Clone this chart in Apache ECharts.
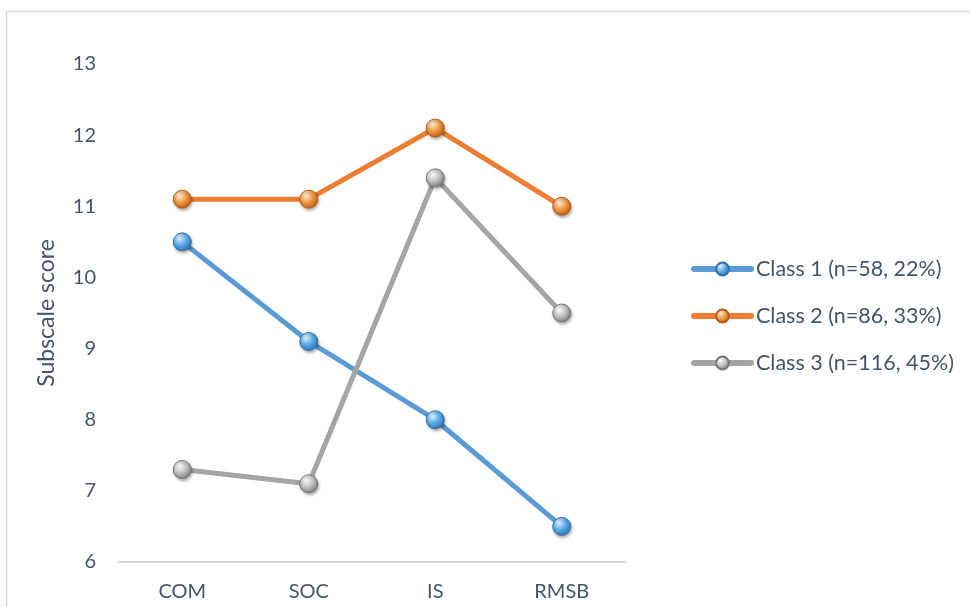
<!DOCTYPE html>
<html>
<head>
<meta charset="utf-8">
<script src="https://cdn.jsdelivr.net/npm/echarts@6/dist/echarts.min.js"></script>
<style>
  html, body { margin: 0; padding: 0; background: #fff; }
  #main { width: 970px; height: 607px; }
</style>
</head>
<body>
<div id="main"></div>
<script>
var categories = ['COM', 'SOC', 'IS', 'RMSB'];
var class1 = [10.5, 9.1, 8.0, 6.5];
var class2 = [11.1, 11.1, 12.1, 11.0];
var class3 = [7.3, 7.1, 11.4, 9.5];
var seriesNames = ['Class 1 (n=58, 22%)', 'Class 2 (n=86, 33%)', 'Class 3 (n=116, 45%)'];

var textColor = '#44546a';

function ball(light, mid, dark) {
    return new echarts.graphic.RadialGradient(0.35, 0.3, 0.75, [
        {offset: 0, color: light},
        {offset: 0.5, color: mid},
        {offset: 1, color: dark}
    ]);
}

function makeSeries(name, data, lineColor, light, mid, dark) {
    return {
        name: name,
        type: 'line',
        data: data,
        symbol: 'circle',
        symbolSize: 18,
        lineStyle: {color: lineColor, width: 5},
        itemStyle: {
            color: ball(light, mid, dark),
            borderColor: dark,
            borderWidth: 1,
            shadowColor: 'rgba(0,0,0,0.3)',
            shadowBlur: 3,
            shadowOffsetX: 1,
            shadowOffsetY: 2
        },
        color: lineColor
    };
}

var myChart = echarts.init(document.getElementById('main'));
option = {
    animation: false,
    textStyle: {fontFamily: 'Lato'},
    graphic: [{
        type: 'rect',
        shape: {x: 6.5, y: 11.5, width: 1000, height: 700},
        style: {fill: 'none', stroke: '#d9d9d9', lineWidth: 1.5}
    }],
    grid: {left: 119, right: 345, top: 64, bottom: 45},
    legend: {
        orient: 'vertical',
        left: 686,
        top: 253,
        itemWidth: 57,
        itemHeight: 16,
        itemGap: 25,
        lineStyle: {width: 6, cap: 'round'},
        textStyle: {color: textColor, fontSize: 21.5, fontFamily: 'Lato', padding: [8, 0, 0, 0]},
        data: seriesNames
    },
    xAxis: {
        type: 'category',
        data: categories,
        axisLine: {lineStyle: {color: '#d9d9d9', width: 2}},
        axisTick: {show: false},
        axisLabel: {color: textColor, fontSize: 20, margin: 20}
    },
    yAxis: {
        type: 'value',
        min: 6,
        max: 13,
        interval: 1,
        name: 'Subscale score',
        nameLocation: 'middle',
        nameGap: 61,
        nameTextStyle: {color: textColor, fontSize: 23},
        axisLine: {show: false},
        axisTick: {show: false},
        splitLine: {show: false},
        axisLabel: {color: textColor, fontSize: 20, margin: 23}
    },
    series: [
        makeSeries(seriesNames[0], class1, '#5b9bd5', '#e6f4ff', '#5aaeea', '#2e6fae'),
        makeSeries(seriesNames[1], class2, '#ed7d31', '#fff0dc', '#f39a45', '#b65a14'),
        makeSeries(seriesNames[2], class3, '#a5a5a5', '#ffffff', '#c4c4c4', '#777777')
    ]
};

myChart.setOption(option);
</script>
</body>
</html>
